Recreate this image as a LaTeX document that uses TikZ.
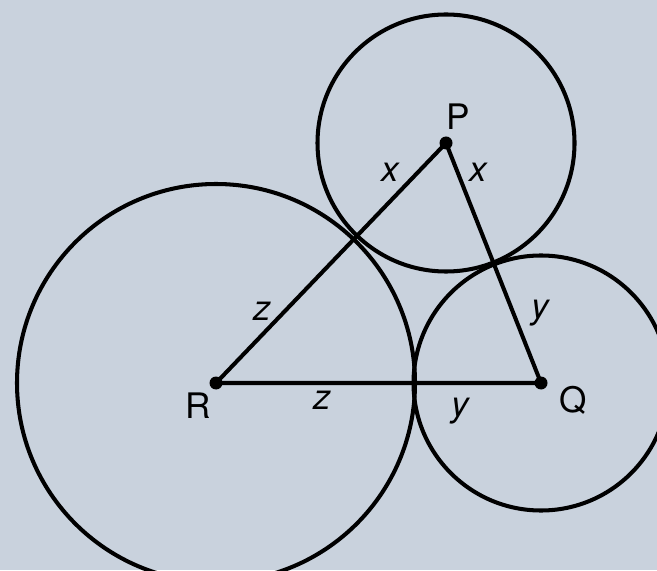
\documentclass[tikz,border=0pt]{standalone}
\usepackage{fontspec}
\setmainfont{TeX Gyre Heros}
\definecolor{paper}{RGB}{201,210,221}
\begin{document}
\begin{tikzpicture}[
  line width=2.3pt,
  font=\fontsize{20}{24}\selectfont,
  ctr/.style={circle,fill=black,inner sep=0pt,minimum size=2.6mm},
  vlab/.style={inner sep=1pt},
  slab/.style={inner sep=1pt,font=\fontsize{20}{24}\selectfont\itshape}]
\fill[paper] (0,0) rectangle (13.14,11.4);
\useasboundingbox (0,0) rectangle (13.14,11.4);
\clip (0,0) rectangle (13.14,11.4);
% centres
\node[ctr] (P) at (8.92,8.54) {};
\node[ctr] (Q) at (10.82,3.74) {};
\node[ctr] (R) at (4.32,3.74) {};
% circles
\draw (P.center) circle (2.57);
\draw (Q.center) circle (2.55);
\draw (R.center) circle (3.98);
% triangle
\draw (P.center) -- (Q.center) -- (R.center) -- cycle;
% labels
\node[vlab] (Plab) at (9.16,9.06) {P};
\node[vlab] (Qlab) at (11.46,3.40) {Q};
\node[vlab] (Rlab) at (3.96,3.28) {R};
\node[slab] (xl) at (7.80,7.96) {x};
\node[slab] (xr) at (9.56,7.96) {x};
\node[slab] (zu) at (5.24,5.18) {z};
\node[slab] (zd) at (6.44,3.40) {z};
\node[slab] (yr) at (10.80,5.14) {y};
\node[slab] (yd) at (9.20,3.18) {y};
\end{tikzpicture}
\end{document}
